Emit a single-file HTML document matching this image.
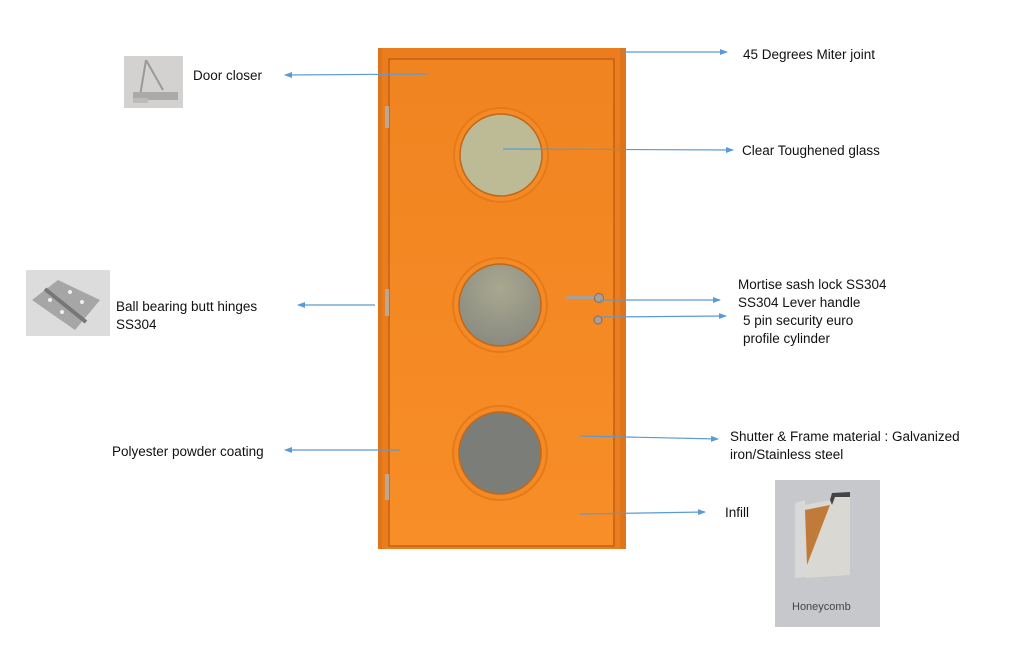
<!DOCTYPE html>
<html><head><meta charset="utf-8"><style>
html,body{margin:0;padding:0;background:#fff;}
svg{display:block;}
text{font-family:"Liberation Sans",sans-serif;font-size:13.5px;fill:#111;}
</style></head><body>
<svg width="1024" height="661" viewBox="0 0 1024 661" xmlns="http://www.w3.org/2000/svg">
<defs>
<marker id="ah" markerWidth="8" markerHeight="8" refX="7" refY="4" orient="auto" markerUnits="userSpaceOnUse">
<path d="M0,1 L8,4 L0,7 Z" fill="#5b9bd5"/></marker>
<radialGradient id="g2" cx="0.5" cy="0.3" r="0.7"><stop offset="0" stop-color="#a8a890"/><stop offset="1" stop-color="#8a8a80"/></radialGradient>
<linearGradient id="door" x1="0" y1="0" x2="0" y2="1"><stop offset="0" stop-color="#f08420"/><stop offset="1" stop-color="#f88e28"/></linearGradient>
</defs>
<rect x="378" y="48" width="248" height="501" fill="#ec7d1e"/>
<rect x="378" y="48" width="4" height="501" fill="#e07418"/>
<rect x="620" y="48" width="6" height="501" fill="#e07418"/>
<rect x="389" y="59" width="225" height="487" fill="url(#door)" stroke="#b85a10" stroke-width="1.2"/>
<line x1="614" y1="59" x2="614" y2="546" stroke="#c8620f" stroke-width="1.5"/>
<rect x="385" y="106" width="4" height="22" fill="#b8a898"/>
<rect x="385" y="289" width="4" height="27" fill="#b8a898"/>
<rect x="385" y="474" width="4" height="26" fill="#b8a898"/>
<circle cx="501" cy="155" r="47" fill="#f38a25" stroke="#e67a18" stroke-width="2"/>
<circle cx="501" cy="155" r="41" fill="#bdbb96" stroke="#c2661a" stroke-width="1.5"/>
<circle cx="500" cy="305" r="47" fill="#f38a25" stroke="#e67a18" stroke-width="2"/>
<circle cx="500" cy="305" r="41" fill="url(#g2)" stroke="#c2661a" stroke-width="1.5"/>
<circle cx="500" cy="453" r="47" fill="#f38a25" stroke="#e67a18" stroke-width="2"/>
<circle cx="500" cy="453" r="41" fill="#7b7d79" stroke="#c2661a" stroke-width="1.5"/>
<rect x="566" y="296" width="32" height="3" rx="1.5" fill="#a8a098"/>
<circle cx="599" cy="298" r="4.5" fill="#a8a098" stroke="#7a6f66"/>
<circle cx="598" cy="320" r="4" fill="#a8a098" stroke="#7a6f66"/>
<g stroke="#5b9bd5" stroke-width="1.2" fill="none" marker-end="url(#ah)">
<line x1="428" y1="74" x2="285" y2="75"/>
<line x1="622" y1="52" x2="727" y2="52"/>
<line x1="503" y1="149" x2="733" y2="150"/>
<line x1="600" y1="300" x2="720" y2="300"/>
<line x1="602" y1="317" x2="726" y2="316"/>
<line x1="375" y1="305" x2="298" y2="305"/>
<line x1="400" y1="450" x2="285" y2="450"/>
<line x1="580" y1="436" x2="718" y2="439"/>
<line x1="580" y1="514" x2="705" y2="512"/>
</g>
<text x="193" y="80">Door closer</text>
<text x="743" y="59">45 Degrees Miter joint</text>
<text x="742" y="155">Clear Toughened glass</text>
<text x="738" y="289">Mortise sash lock SS304</text>
<text x="738" y="307">SS304 Lever handle</text>
<text x="743" y="325">5 pin security euro</text>
<text x="743" y="343">profile cylinder</text>
<text x="116" y="311">Ball bearing butt hinges</text>
<text x="116" y="329">SS304</text>
<text x="112" y="456">Polyester powder coating</text>
<text x="730" y="441">Shutter &amp; Frame material : Galvanized</text>
<text x="730" y="459">iron/Stainless steel</text>
<text x="725" y="517">Infill</text>
<rect x="124" y="56" width="59" height="52" fill="#d4d2d0"/>
<line x1="146" y1="60" x2="140" y2="96" stroke="#999" stroke-width="2"/>
<line x1="146" y1="60" x2="163" y2="90" stroke="#999" stroke-width="2"/>
<rect x="133" y="92" width="45" height="8" fill="#aaa"/>
<rect x="133" y="98" width="15" height="5" fill="#bbb"/>
<rect x="26" y="270" width="84" height="66" fill="#dcdcdc"/>
<polygon points="32,300 58,280 100,300 75,330" fill="#a6a6a6"/>
<line x1="45" y1="289" x2="86" y2="322" stroke="#777" stroke-width="4"/>
<g fill="#eee"><circle cx="50" cy="300" r="2"/><circle cx="62" cy="312" r="2"/><circle cx="70" cy="292" r="2"/><circle cx="82" cy="302" r="2"/></g>
<rect x="775" y="480" width="105" height="147" fill="#c7c8cc"/>
<polygon points="795,503 805,500 805,577 795,578" fill="#d8d8d8"/>
<polygon points="805,505 830,500 832,497 850,495 850,575 805,578" fill="#dad8d2"/>
<polygon points="805,510 830,505 807,565" fill="#c07a3a"/>
<polygon points="830,500 832,493 850,492 850,497 835,497 832,505" fill="#444"/>
<text x="792" y="610" style="font-size:11px;fill:#444;">Honeycomb</text>
</svg>
</body></html>
